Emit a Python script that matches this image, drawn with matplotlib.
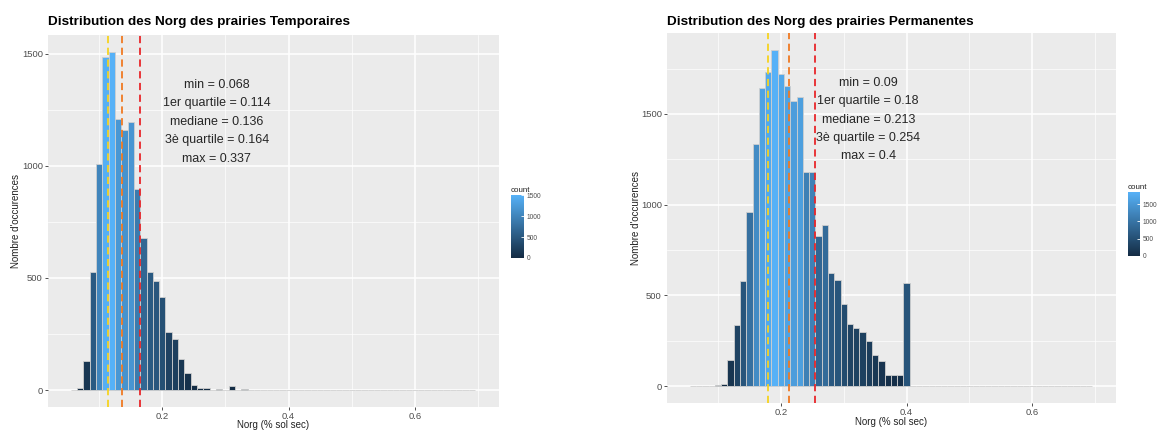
import numpy as np
import matplotlib
matplotlib.use("Agg")
import matplotlib.pyplot as plt
from matplotlib.colors import LinearSegmentedColormap, Normalize
from matplotlib.cm import ScalarMappable

plt.rcParams['font.family'] = ['Liberation Sans', 'DejaVu Sans']

# bin centres (binwidth 0.01, from 0.06 to 0.69)
bin_centres = np.round(np.arange(64) * 0.01 + 0.06, 2)

# Norg counts, prairies temporaires
counts_temp = [0, 8, 131, 525, 1009, 1484, 1508, 1210, 1161, 1195,
               896, 676, 525, 488, 417, 260, 228, 137, 74, 22,
               9, 9, 0, 3, 0, 18, 2, 3, 2, 0,
               0, 0, 0, 0, 0, 0, 0, 0, 0, 0,
               0, 0, 0, 0, 0, 0, 0, 0, 0, 0,
               0, 0, 0, 0, 0, 0, 0, 0, 0, 0,
               0, 0, 0, 0]

# Norg counts, prairies permanentes
counts_perm = [0, 0, 0, 2, 6, 12, 143, 336, 581, 960,
               1333, 1640, 1731, 1853, 1718, 1656, 1573, 1593, 1179, 1180,
               825, 889, 626, 585, 450, 340, 318, 298, 250, 174,
               136, 64, 64, 64, 567, 0, 0, 0, 0, 0,
               0, 0, 0, 0, 0, 0, 0, 0, 0, 0,
               0, 0, 0, 0, 0, 0, 0, 0, 0, 0,
               0, 0, 0, 0]

titles = ["Distribution des Norg des prairies Temporaires",
          "Distribution des Norg des prairies Permanentes"]
stats_temp = [0.068, 0.114, 0.136, 0.164, 0.337]
stats_perm = [0.09, 0.18, 0.213, 0.254, 0.4]
stat_names = ["min", "1er quartile", "mediane", "3è quartile", "max"]
text_pos = [(0.286, 1196), (0.339, 1469)]

cmap = LinearSegmentedColormap.from_list("gg", ["#132B43", "#56B1F7"])

fig = plt.figure(figsize=(11.61, 4.30), dpi=100)
W, H = 1161, 430


def box(x0, y0, x1, y1):
    return [x0 / W, 1 - y1 / H, (x1 - x0) / W, (y1 - y0) / H]


axes = [fig.add_axes(box(48, 35, 499, 407)), fig.add_axes(box(667, 33, 1116, 403))]
caxes = [fig.add_axes(box(511, 195, 524, 258)), fig.add_axes(box(1128, 192, 1140, 256))]
title_x = [48, 667]
xlabel_pos = [(273, 425), (891, 422)]
ylabel_pos = [(16, 221), (636, 218)]

for i, (ax, cax, counts, stats) in enumerate(zip(axes, caxes, [counts_temp, counts_perm],
                                                 [stats_temp, stats_perm])):
    counts = np.array(counts)
    norm = Normalize(0, counts.max())
    ax.set_facecolor("#EBEBEB")
    ax.bar(bin_centres, counts, width=0.01, color=cmap(norm(counts)),
           edgecolor="#cfcfcf", linewidth=0.6, zorder=3)

    ymax = counts.max()
    ax.set_ylim(-0.05 * ymax, 1.05 * ymax)
    ax.set_xlim(0.019, 0.733)
    ax.set_xticks([0.2, 0.4, 0.6])
    ax.set_xticklabels(["0.2", "0.4", "0.6"])
    ax.set_xticks([0.1, 0.3, 0.5, 0.7], minor=True)
    ax.set_yticks([0, 500, 1000, 1500])
    ax.set_yticks(np.arange(250, ymax * 1.05, 500), minor=True)
    ax.grid(True, which="major", color="white", linewidth=1.1, zorder=0)
    ax.grid(True, which="minor", color="white", linewidth=0.5, zorder=0)
    ax.set_axisbelow(True)
    for s in ax.spines.values():
        s.set_visible(False)
    ax.tick_params(which="major", labelsize=6.8, labelcolor="#4D4D4D", color="#333333",
                   length=2.2, width=0.6, pad=1.5)
    ax.tick_params(which="minor", length=0)

    # quartile lines
    for val, col in zip(stats[1:4], ["#F5D320", "#F07A22", "#E8262A"]):
        ax.axvline(val, color=col, linestyle=(0, (4, 2.5)), linewidth=1.3, zorder=4)

    txt = "\n".join(f"{n} = {v:g}" for n, v in zip(stat_names, stats))
    ax.text(text_pos[i][0], text_pos[i][1], txt, ha="center", va="center",
            fontsize=9, linespacing=1.72, color="#262626", zorder=5)

    fig.text(title_x[i] / W, 1 - 22 / H, titles[i], fontsize=9.7, fontweight="bold",
             ha="left", va="center")
    fig.text(xlabel_pos[i][0] / W, 1 - xlabel_pos[i][1] / H, "Norg (% sol sec)",
             fontsize=7, ha="center", va="center", color="#222222")
    fig.text(ylabel_pos[i][0] / W, 1 - ylabel_pos[i][1] / H, "Nombre d'occurences",
             fontsize=7, ha="center", va="center", rotation=90, color="#222222")

    # colour bar
    cb = fig.colorbar(ScalarMappable(norm=norm, cmap=cmap), cax=cax)
    cb.outline.set_visible(False)
    cb.set_ticks([0, 500, 1000, 1500])
    cax.tick_params(labelsize=4.8, labelcolor="#4D4D4D", color="white", direction="in",
                    length=2, width=0.6, pad=2)
    cax.set_title("count", fontsize=5.8, loc="left", pad=2, color="#222222")

fig.savefig("out.png", dpi=100)
